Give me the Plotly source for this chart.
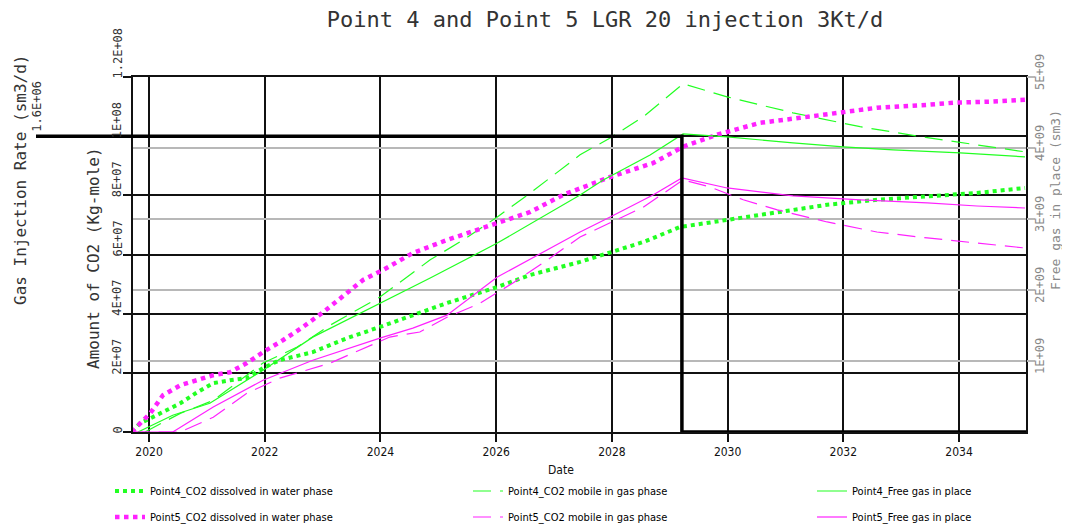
import plotly.graph_objects as go

# ---------------- data ----------------
p5_diss_years = [2019.70, 2020.02, 2020.24, 2020.54, 2021.11, 2021.40, 2021.69, 2021.97, 2022.32, 2022.66,
                 2023.01, 2023.42, 2023.70, 2024.05, 2024.56, 2025.15, 2026.02, 2026.59, 2027.16, 2027.97,
                 2028.71, 2029.23, 2029.82, 2030.56, 2031.25, 2032.00, 2032.58, 2033.45, 2033.90, 2034.59, 2035.14]
p5_diss_vals = [0, 6.3e6, 12.4e6, 15.8e6, 19.2e6, 20.2e6, 23.3e6, 27.0e6, 31.1e6, 35.5e6,
                40.5e6, 47.0e6, 51.4e6, 54.8e6, 60.5e6, 64.9e6, 70.7e6, 74.4e6, 80.2e6, 86.2e6,
                90.9e6, 96.4e6, 100.5e6, 104.5e6, 106.2e6, 108.3e6, 109.6e6, 110.6e6, 111.3e6, 111.7e6, 112.3e6]

p4_diss_years = [2019.71, 2019.84, 2020.02, 2020.24, 2020.54, 2020.83, 2021.11, 2021.40, 2021.69, 2021.97,
                 2022.26, 2022.83, 2023.42, 2023.99, 2024.56, 2025.15, 2026.02, 2026.59, 2027.45, 2028.54,
                 2029.18, 2029.99, 2030.86, 2031.72, 2032.58, 2033.45, 2034.31, 2035.14]
p4_diss_vals = [0, 2.9e6, 4.6e6, 6.7e6, 9.7e6, 13.4e6, 16.5e6, 17.5e6, 18.2e6, 21.6e6,
                24.3e6, 27.0e6, 31.7e6, 35.5e6, 39.5e6, 43.6e6, 49.0e6, 53.1e6, 57.5e6, 64.2e6,
                69.3e6, 71.7e6, 74.4e6, 76.8e6, 78.5e6, 79.5e6, 80.8e6, 82.5e6]

p4_mob_years = [2019.93, 2020.54, 2021.11, 2021.97, 2022.56, 2023.13, 2023.99, 2024.86, 2025.43, 2026.02,
                2026.59, 2027.45, 2027.97, 2028.54, 2029.23, 2029.99, 2031.13, 2032.29, 2033.45, 2034.31, 2035.14]
p4_mob_vals = [0, 6.3e6, 10.7e6, 23.3e6, 28.7e6, 36.1e6, 45.6e6, 58.2e6, 64.9e6, 72.7e6,
               80.8e6, 93.7e6, 99.4e6, 106.5e6, 117.7e6, 113.3e6, 107.9e6, 103.2e6, 99.5e6, 97.1e6, 94.7e6]

p5_mob_years = [2019.70, 2020.54, 2021.11, 2021.69, 2022.26, 2023.13, 2024.16, 2024.68, 2025.15, 2025.72,
                2026.29, 2026.88, 2027.45, 2028.54, 2029.23, 2029.70, 2030.27, 2030.86, 2031.72, 2032.58,
                2033.45, 2034.31, 2035.14]
p5_mob_vals = [0, 0, 5.0e6, 13.1e6, 18.2e6, 23.3e6, 32.1e6, 33.8e6, 38.8e6, 43.5e6,
               50.4e6, 58.1e6, 65.9e6, 76.0e6, 85.2e6, 82.8e6, 78.5e6, 75.1e6, 71.0e6, 67.6e6,
               65.6e6, 63.9e6, 62.2e6]

p4_free_years = [2019.81, 2020.41, 2021.05, 2021.97, 2022.83, 2023.99, 2024.86, 2026.02, 2027.45, 2027.85,
                 2028.66, 2029.23, 2029.99, 2031.13, 2032.00, 2032.86, 2034.02, 2035.14]
p4_free_vals = [0, 0.236e9, 0.405e9, 0.870e9, 1.336e9, 1.815e9, 2.168e9, 2.661e9, 3.338e9, 3.550e9,
                3.902e9, 4.199e9, 4.157e9, 4.072e9, 4.016e9, 3.973e9, 3.931e9, 3.875e9]

p5_free_years = [2019.70, 2020.41, 2021.11, 2021.97, 2022.83, 2023.99, 2024.56, 2025.15, 2026.02, 2026.88,
                 2027.45, 2027.97, 2028.71, 2029.21, 2029.99, 2031.13, 2032.29, 2033.45, 2034.31, 2035.14]
p5_free_vals = [0, 0, 0.352e9, 0.729e9, 1.011e9, 1.322e9, 1.463e9, 1.646e9, 2.182e9, 2.563e9,
                2.817e9, 3.028e9, 3.339e9, 3.578e9, 3.437e9, 3.325e9, 3.268e9, 3.226e9, 3.183e9, 3.155e9]

inj_years = [2019.72, 2029.21, 2029.21, 2035.16]
inj_rate = [1.6e6, 1.6e6, 0, 0]
inj_tick_val = 1.6e6
inj_tick_text = "1.6E+06"

x_tick_years = [2020, 2022, 2024, 2026, 2028, 2030, 2032, 2034]
left_tick_vals = [0, 2e7, 4e7, 6e7, 8e7, 1e8, 1.2e8]
left_tick_text = ["0", "2E+07", "4E+07", "6E+07", "8E+07", "1E+08", "1.2E+08"]
right_tick_vals = [1e9, 2e9, 3e9, 4e9, 5e9]
right_tick_text = ["1E+09", "2E+09", "3E+09", "4E+09", "5E+09"]

# ---------------- styles ----------------
GREEN = "#22ff22"
MAGENTA = "#ff22ff"
MONO = "DejaVu Sans Mono"
NARROW = "DejaVu Sans Condensed, Liberation Sans Narrow, Arial Narrow, sans-serif"

# the page body adds an 8px offset; the figure is sized to fit inside the window
OFF = 8
FW = 1070 - OFF
FH = 528 - OFF
PW = 893.0
PH = 355.0
def px_x(px):
    return (px - 133) / PW
def px_y(py):
    return (432 - py) / PH

fig = go.Figure()

fig.add_trace(go.Scatter(x=inj_years, y=inj_rate, yaxis="y3", mode="lines",
                         line=dict(color="black", width=3.5), showlegend=False, hoverinfo="skip"))

series = [
    (p4_diss_years, p4_diss_vals, "y", "Point4_CO2 dissolved in water phase", dict(color=GREEN, width=4, dash="dot"), "legend"),
    (p4_mob_years, p4_mob_vals, "y", "Point4_CO2 mobile in gas phase", dict(color=GREEN, width=1.2, dash="18px,9px"), "legend2"),
    (p4_free_years, p4_free_vals, "y2", "Point4_Free gas in place", dict(color=GREEN, width=1.2), "legend3"),
    (p5_diss_years, p5_diss_vals, "y", "Point5_CO2 dissolved in water phase", dict(color=MAGENTA, width=4.5, dash="dot"), "legend4"),
    (p5_mob_years, p5_mob_vals, "y", "Point5_CO2 mobile in gas phase", dict(color=MAGENTA, width=1.2, dash="18px,9px"), "legend5"),
    (p5_free_years, p5_free_vals, "y2", "Point5_Free gas in place", dict(color=MAGENTA, width=1.2), "legend6"),
]
for xs, ys, ax, name, ln, lg in series:
    fig.add_trace(go.Scatter(x=xs, y=ys, yaxis=ax, mode="lines", name=name, line=ln, legend=lg))

legend_common = dict(orientation="v", xanchor="left", yanchor="middle",
                     font=dict(family=NARROW, size=11, color="black"),
                     bgcolor="rgba(0,0,0,0)", itemwidth=30)
leg_pos = {
    "legend": (110, 491), "legend2": (468, 491), "legend3": (812, 491),
    "legend4": (110, 517), "legend5": (468, 517), "legend6": (812, 517),
}
legends = {k: dict(x=px_x(v[0]), y=px_y(v[1]), **legend_common) for k, v in leg_pos.items()}

fig.update_layout(
    width=FW, height=FH,
    margin=dict(l=133 - OFF, r=44, t=77 - OFF, b=96, autoexpand=False),
    paper_bgcolor="white", plot_bgcolor="white",
    title=dict(text="Point 4 and Point 5 LGR 20 injection 3Kt/d", x=(605 - OFF) / FW, xanchor="center",
               y=1 - 4 / FH, yanchor="top", xref="container", yref="container", pad=dict(t=0, b=0),
               font=dict(family=MONO, size=22, color="#333")),
    xaxis=dict(range=[2019.723, 2035.157], tickvals=x_tick_years, ticktext=[str(v) for v in x_tick_years],
               showgrid=True, gridcolor="#111", gridwidth=1.5, zeroline=False, automargin=False,
               showline=True, linecolor="#111", linewidth=1.5, mirror=True,
               ticks="outside", ticklen=8, tickcolor="#111", tickwidth=1.5,
               tickfont=dict(family=NARROW, size=12, color="#111")),
    yaxis=dict(range=[0, 1.2e8], tickvals=left_tick_vals, showticklabels=False, automargin=False,
               showgrid=True, gridcolor="#111", gridwidth=1.5, zeroline=False,
               showline=True, linecolor="#111", linewidth=1.5, mirror=True,
               ticks="outside", ticklen=8, tickcolor="#111", tickwidth=1.5),
    yaxis2=dict(range=[0, 5e9], overlaying="y", side="right", tickvals=right_tick_vals, showticklabels=False,
                showgrid=True, gridcolor="#b8b8b8", gridwidth=1.5, zeroline=False, showline=False, automargin=False,
                ticks="outside", ticklen=8, tickcolor="#b8b8b8", tickwidth=1.5),
    yaxis3=dict(range=[0, 1.92e6], overlaying="y", visible=False),
    **legends,
)

fig.add_shape(type="line", xref="paper", yref="y3", x0=px_x(36), x1=0, y0=inj_tick_val, y1=inj_tick_val,
              line=dict(color="black", width=3.5))

# rotated tick labels (read bottom-to-top, as in the original)
for v, t in zip(left_tick_vals, left_tick_text):
    fig.add_annotation(text=t, xref="paper", yref="y", x=px_x(117), y=v, textangle=-90,
                       xanchor="center", yanchor="bottom", yshift=-4, showarrow=False,
                       font=dict(family=MONO, size=12, color="#333"))
for v, t in zip(right_tick_vals, right_tick_text):
    fig.add_annotation(text=t, xref="paper", yref="y2", x=px_x(1040), y=v, textangle=-90,
                       xanchor="center", yanchor="middle", yshift=5, showarrow=False,
                       font=dict(family=MONO, size=12, color="#888"))
fig.add_annotation(text=inj_tick_text, xref="paper", yref="y3", x=px_x(37), y=inj_tick_val, textangle=-90,
                   xanchor="center", yanchor="bottom", yshift=2, showarrow=False,
                   font=dict(family=MONO, size=12, color="#333"))

annots = [
    dict(text="Gas Injection Rate (sm3/d)", x=px_x(20), y=px_y(180), textangle=-90,
         font=dict(family=MONO, size=16, color="#333")),
    dict(text="Amount of CO2 (Kg-mole)", x=px_x(93), y=px_y(258), textangle=-90,
         font=dict(family=MONO, size=16, color="#333")),
    dict(text="Free gas in place (sm3)", x=px_x(1055), y=px_y(200), textangle=-90,
         font=dict(family=MONO, size=13, color="#888")),
    dict(text="Date", x=px_x(561), y=px_y(470), font=dict(family=NARROW, size=12, color="#111")),
]
for a in annots:
    fig.add_annotation(xref="paper", yref="paper", showarrow=False, xanchor="center", yanchor="middle", **a)

fig.write_html("out.html")
